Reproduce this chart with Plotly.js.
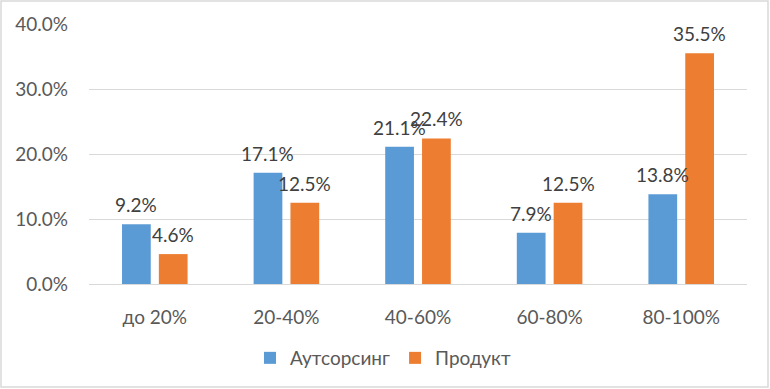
<!DOCTYPE html>
<html>
<head>
<meta charset="utf-8">
<script src="https://cdn.plot.ly/plotly-3.0.1.min.js"></script>
<style>
  html, body { margin: 0; padding: 0; background: #ffffff; }
  #chart { width: 770px; height: 389px; }
</style>
</head>
<body>
<div id="chart"></div>
<script>
const categories = ["до 20%", "20-40%", "40-60%", "60-80%", "80-100%"];
const outsourcing = [0.092, 0.171, 0.211, 0.079, 0.138];
const product = [0.046, 0.125, 0.224, 0.125, 0.355];
const seriesNames = ["Аутсорсинг", "Продукт"];
const yTickVals = [0, 0.1, 0.2, 0.3, 0.4];

const W = 770, H = 389;
const m = { l: 89, r: 23, t: 24, b: 105 };
const pw = W - m.l - m.r, ph = H - m.t - m.b;
const px = v => (v - m.l) / pw;
const py = v => (H - m.b - v) / ph;

const fontFam = "Lato, 'Open Sans', 'Liberation Sans', sans-serif";
const FS = 19;
const BARGAP = 0.44, BARGROUPGAP = 0.22;

function barTrace(name, vals, color) {
  return {
    type: "bar",
    name: name,
    x: categories,
    y: vals,
    marker: { color: color },
    hoverinfo: "skip"
  };
}

const series = [outsourcing, product];
const data = [
  barTrace(seriesNames[0], outsourcing, "#5B9BD5"),
  barTrace(seriesNames[1], product, "#ED7D31")
];

// data labels, anchored to each bar's value via the axis scales
const slot = (pw / categories.length) * (1 - BARGAP) / series.length;
const annotations = [];
series.forEach((vals, si) => {
  const shift = (si - (series.length - 1) / 2) * slot;
  vals.forEach((v, i) => {
    annotations.push({
      x: categories[i], y: v, xref: "x", yref: "y",
      text: (v * 100).toFixed(1) + "%",
      showarrow: false,
      xanchor: "center", yanchor: "bottom",
      xshift: shift, yshift: 6,
      font: { family: fontFam, size: FS, color: "#404040" }
    });
  });
});

const layout = {
  width: W,
  height: H,
  margin: m,
  paper_bgcolor: "#ffffff",
  plot_bgcolor: "#ffffff",
  font: { family: fontFam, size: FS, color: "#595959" },
  barmode: "group",
  bargap: BARGAP,
  bargroupgap: BARGROUPGAP,
  showlegend: true,
  legend: {
    orientation: "h",
    x: px(250), xanchor: "left",
    y: py(358), yanchor: "middle",
    font: { family: fontFam, size: FS, color: "#595959" },
    itemwidth: 30,
    traceorder: "normal"
  },
  xaxis: {
    type: "category",
    showgrid: false,
    showline: false,
    ticks: "",
    ticklabelstandoff: 20,
    tickfont: { family: fontFam, size: FS, color: "#595959" },
    fixedrange: true
  },
  yaxis: {
    range: [0, 0.4],
    tickvals: yTickVals,
    tickformat: ".1%",
    showgrid: true,
    gridcolor: "#d9d9d9",
    gridwidth: 1,
    zeroline: true,
    zerolinecolor: "#d9d9d9",
    zerolinewidth: 1,
    showline: false,
    ticks: "",
    ticklabelstandoff: 20,
    tickfont: { family: fontFam, size: FS, color: "#595959" },
    fixedrange: true
  },
  annotations: annotations,
  shapes: [{
    type: "rect",
    xref: "paper", yref: "paper",
    x0: px(1), x1: px(768),
    y0: py(387), y1: py(1),
    line: { color: "#d9d9d9", width: 1.5 },
    fillcolor: "rgba(0,0,0,0)",
    layer: "below"
  }]
};

Plotly.newPlot("chart", data, layout, { displayModeBar: false, staticPlot: true });
</script>
</body>
</html>
